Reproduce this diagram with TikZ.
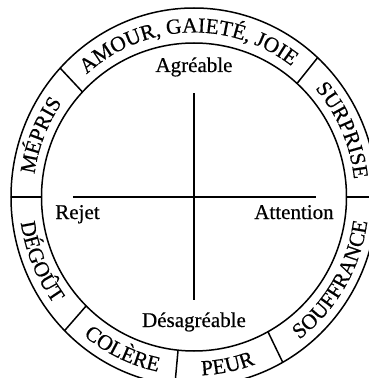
\documentclass[tikz,border=0pt]{standalone}
\usepackage{fontspec}
\setmainfont{Liberation Serif}[FakeBold=0.5]
\usetikzlibrary{decorations.text}
\newcommand{\ringfont}{\fontsize{21.5}{25}\selectfont}
\tikzset{
  rim/.style={line width=1.5pt},
  sector/.style={line width=1.5pt},
  axisln/.style={line width=1.5pt},
  pole/.style={font=\fontsize{21}{25}\selectfont, anchor=base, inner sep=0pt},
  ringlbl/.style={decorate, decoration={text along path, text align=center,
                  text={|\ringfont|#1}}},
}

\begin{document}
\begin{tikzpicture}[x=1pt,y=1pt]
  \useasboundingbox (-194,-181) rectangle (175,197);
  \clip (-194,-181) rectangle (175,197);
  % rings
  \draw[rim] (0,0) ellipse [x radius=183pt, y radius=189pt];
  \draw[rim] (0,0) ellipse [x radius=152.5pt, y radius=154pt];
  % sector borders
  \foreach \a in {0,47.5,137,180,225,264,299}
    \draw[sector] (\a:152.5pt and 154pt) -- (\a:183pt and 189pt);
  % axes
  \coordinate (n) at (0,104);
  \coordinate (s) at (0,-103);
  \coordinate (w) at (-121,0);
  \coordinate (e) at (122,0);
  \draw[axisln] (w) -- (e);
  \draw[axisln] (n) -- (s);
  % poles
  \node[pole] (agreable) at (0,125) {Agréable};
  \node[pole] (desagreable) at (0,-130) {Désagréable};
  \node[pole] (rejet) at (-116.5,-22) {Rejet};
  \node[pole] (attention) at (100,-22) {Attention};
  % upper half, read clockwise
  \path[ringlbl={MÉPRIS}] (180:161pt and 164.5pt)
    arc[start angle=180, end angle=137, x radius=161pt, y radius=164.5pt];
  \path[ringlbl={AMOUR, GAIETÉ, JOIE}] (137:161pt and 164.5pt)
    arc[start angle=137, end angle=47.5, x radius=161pt, y radius=164.5pt];
  \path[ringlbl={SURPRISE}] (47.5:161pt and 164.5pt)
    arc[start angle=47.5, end angle=0, x radius=161pt, y radius=164.5pt];
  % lower half, read counterclockwise
  \path[ringlbl={DÉGOÛT}] (180:175pt and 178.5pt)
    arc[start angle=180, end angle=225, x radius=175pt, y radius=178.5pt];
  \path[ringlbl={COLÈRE}] (225:175pt and 178.5pt)
    arc[start angle=225, end angle=264, x radius=175pt, y radius=178.5pt];
  \path[ringlbl={PEUR}] (264:175pt and 178.5pt)
    arc[start angle=264, end angle=299, x radius=175pt, y radius=178.5pt];
  \path[ringlbl={SOUFFRANCE}] (299:175pt and 178.5pt)
    arc[start angle=299, end angle=360, x radius=175pt, y radius=178.5pt];
\end{tikzpicture}
\end{document}
